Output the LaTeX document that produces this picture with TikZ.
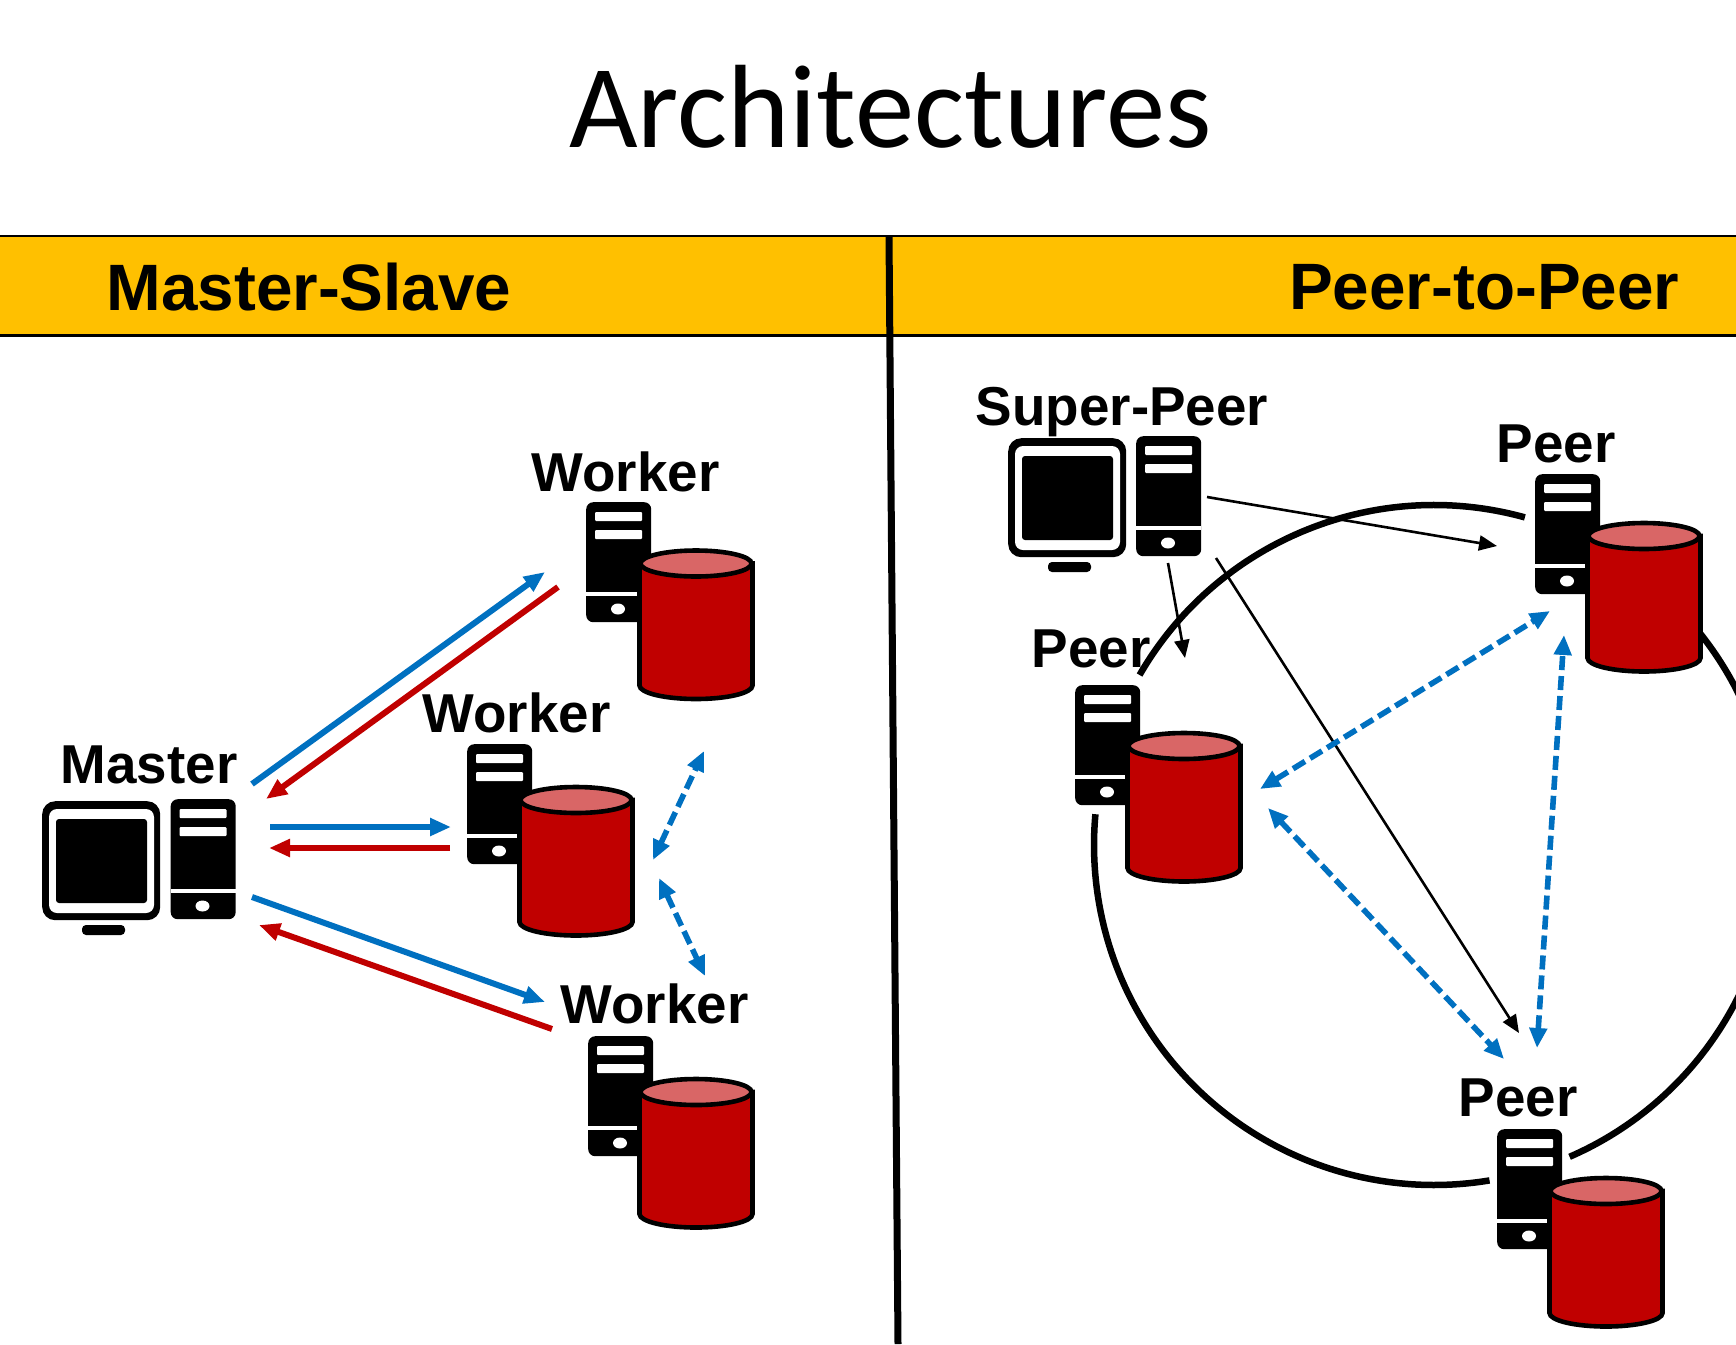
\documentclass[tikz,border=0pt]{standalone}
\usepackage{fontspec}
\setmainfont{Liberation Sans}
\newfontfamily\titlefont{Carlito}
\usetikzlibrary{arrows.meta}
\definecolor{gold}{HTML}{FFC000}
\definecolor{bluearr}{HTML}{0070C0}
\definecolor{redarr}{HTML}{C00000}
\definecolor{capred}{HTML}{D96666}
\tikzset{
  x=1pt,y=-1pt,
  label text/.style={font=\fontsize{54.8}{55}\selectfont\bfseries,anchor=base west,inner sep=0pt,text=black},
  head text/.style={font=\fontsize{65.6}{66}\selectfont\bfseries,anchor=base west,inner sep=0pt,text=black},
  serverbody/.style={anchor=north west,fill=black,rounded corners=7pt,minimum width=65pt,minimum height=120pt,inner sep=0pt},
  slotmark/.style={fill=white,draw=none},
  monitorbody/.style={anchor=north west,fill=black,rounded corners=13pt,minimum width=118pt,minimum height=119pt,inner sep=0pt},
  cylbody/.style={fill=redarr,draw=black,line width=4.6pt},
  cylcap/.style={fill=capred,draw=black,line width=4.6pt},
  bluelink/.style={draw=bluearr,line width=6pt,-{Triangle[length=21pt,width=17pt]}},
  redlink/.style={draw=redarr,line width=6pt,-{Triangle[length=21pt,width=17pt]}},
  dashlink/.style={draw=bluearr,line width=5.6pt,dash pattern=on 14pt off 6pt,{Triangle[length=20pt,width=17pt]}-{Triangle[length=20pt,width=17pt]}},
  thinlink/.style={draw=black,line width=2.6pt,-{Triangle[length=18pt,width=15pt]}},
  ring/.style={draw=black,line width=6.5pt},
}
% name, x, y
\newcommand{\serverpc}[3]{%
  \node[serverbody] (#1) at (#2,#3) {};
  \begin{scope}[shift={(#2,#3)}]
    \fill[slotmark,rounded corners=1pt] (9,10) rectangle (56,19);
    \fill[slotmark,rounded corners=1pt] (9,28) rectangle (56,37);
    \fill[slotmark] (0,90) rectangle (65,94);
    \fill[slotmark] (32,107) ellipse[x radius=7pt,y radius=5.5pt];
  \end{scope}}
% name, x, y
\newcommand{\monitorpc}[3]{%
  \node[monitorbody] (#1) at (#2,#3) {};
  \begin{scope}[shift={(#2,#3)}]
    \fill[slotmark,rounded corners=8pt] (7,8) rectangle (112,112);
    \fill[black,rounded corners=3pt] (14,18) rectangle (105,102);
    \fill[black,rounded corners=4pt] (40,124) rectangle (83,134);
  \end{scope}}
% name, x, y
\newcommand{\database}[3]{%
  \begin{scope}[shift={(#2,#3)}]
    \coordinate (#1) at (58,75);
    \path[cylbody] (1.5,15) -- (1.5,137) arc[start angle=180,end angle=360,x radius=56.5pt,y radius=13.5pt] -- (114.5,15) -- cycle;
    \path[cylcap] (58,15) ellipse[x radius=55.5pt,y radius=13pt];
  \end{scope}}
\begin{document}
\begin{tikzpicture}
\useasboundingbox (0,0) rectangle (1736,1344);
\fill[white] (0,0) rectangle (1736,1344);

\node[anchor=base west,inner sep=0pt,font=\titlefont\fontsize{118.5}{118}\selectfont] (title) at (569,147) {Architectures};

% band
\fill[gold] (0,236) rectangle (1736,335);
\draw[black,line width=2.6pt] (0,236) -- (1736,236);
\draw[black,line width=2.6pt] (0,335.5) -- (1736,335.5);
\coordinate (dividerTop) at (889,236);
\coordinate (dividerEnd) at (898,1344);
\draw[black,line width=7pt] (dividerTop) -- (dividerEnd);
\node[head text] (ms) at (106.5,310.5) {Master-Slave};
\node[head text] (pp) at (1289,309.5) {Peer-to-Peer};

% ring
\coordinate (ringC) at (1434,845);
\begin{scope}
\clip (0,0) rectangle (1736,1344);
\draw[ring] (ringC) ++(150:340pt) arc[start angle=150,end angle=74.5,radius=340pt];
\draw[ring] (ringC) ++(38.5:340pt) arc[start angle=38.5,end angle=-66.5,radius=340pt];
\draw[ring] (ringC) ++(279.4:340pt) arc[start angle=279.4,end angle=174.8,radius=340pt];
\end{scope}

% master-slave side
\node[label text] (lmaster) at (60.5,783.5) {Master};
\monitorpc{mmon}{42}{801}
\serverpc{msrv}{170.5}{799}
\node[label text] (lw1) at (531.5,491.5) {Worker};
\serverpc{w1srv}{586}{502}
\database{w1db}{638}{548.5}
\node[label text] (lw2) at (422.5,732.5) {Worker};
\serverpc{w2srv}{467}{744}
\database{w2db}{518}{785}
\node[label text] (lw3) at (560.5,1023.5) {Worker};
\serverpc{w3srv}{588}{1036}
\database{w3db}{638}{1077}

% peer side
\node[label text] (lsuper) at (975.5,425.5) {Super-Peer};
\monitorpc{smon}{1008}{438}
\serverpc{ssrv}{1136}{436}
\node[label text] (lp1) at (1496.5,462.5) {Peer};
\serverpc{p1srv}{1535}{474}
\database{p1db}{1586}{521}
\node[label text] (lp2) at (1031.5,667.5) {Peer};
\serverpc{p2srv}{1075}{685}
\database{p2db}{1126}{731}
\node[label text] (lp3) at (1458.5,1116.5) {Peer};
\serverpc{p3srv}{1497}{1129}
\database{p3db}{1548}{1176}

% connector ends
\coordinate (a1s) at (252,784); \coordinate (a1e) at (545,572);
\coordinate (a2s) at (558,587); \coordinate (a2e) at (266,799);
\coordinate (a3s) at (270,827); \coordinate (a3e) at (451,827);
\coordinate (a4s) at (450,848); \coordinate (a4e) at (269,848);
\coordinate (a5s) at (252,897); \coordinate (a5e) at (545,1002);
\coordinate (a6s) at (552,1029); \coordinate (a6e) at (259,925);
\coordinate (d1s) at (653,860); \coordinate (d1e) at (704,751);
\coordinate (d2s) at (659,878); \coordinate (d2e) at (705,976);
\coordinate (t1s) at (1207,497); \coordinate (t1e) at (1497,546);
\coordinate (t2s) at (1168,563); \coordinate (t2e) at (1185,658);
\coordinate (t3s) at (1216,558); \coordinate (t3e) at (1519,1033);
\coordinate (d3s) at (1260,789); \coordinate (d3e) at (1550,611);
\coordinate (d4s) at (1268,808); \coordinate (d4e) at (1504,1059);
\coordinate (d5s) at (1537,1048); \coordinate (d5e) at (1564,635);

\draw[bluelink] (a1s) -- (a1e);
\draw[redlink] (a2s) -- (a2e);
\draw[bluelink] (a3s) -- (a3e);
\draw[redlink] (a4s) -- (a4e);
\draw[bluelink] (a5s) -- (a5e);
\draw[redlink] (a6s) -- (a6e);
\draw[dashlink] (d1s) -- (d1e);
\draw[dashlink] (d2s) -- (d2e);
\draw[thinlink] (t1s) -- (t1e);
\draw[thinlink] (t2s) -- (t2e);
\draw[thinlink] (t3s) -- (t3e);
\draw[dashlink] (d3s) -- (d3e);
\draw[dashlink] (d4s) -- (d4e);
\draw[dashlink] (d5s) -- (d5e);
\end{tikzpicture}
\end{document}
